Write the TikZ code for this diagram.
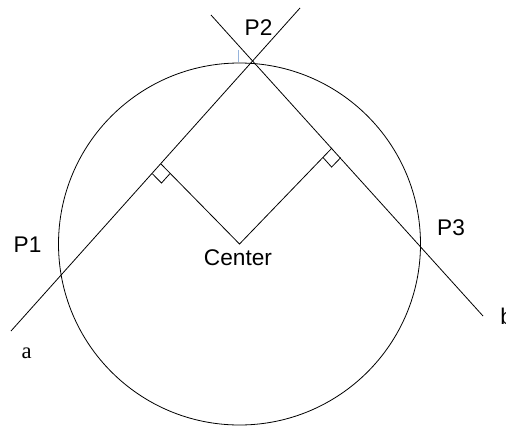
\documentclass[tikz,border=0pt]{standalone}
\usepackage{fontspec}
\setmainfont{Liberation Sans}
\newfontfamily\serifa{Liberation Serif}
\usetikzlibrary{calc}
\definecolor{ticktint}{RGB}{150,180,220}
\begin{document}
\begin{tikzpicture}[x=0.75pt,y=-0.75pt,line width=0.6pt,
  lbl/.style={inner sep=0pt,font=\fontsize{17}{20}\selectfont},
  lbls/.style={inner sep=0pt,font=\serifa\fontsize{17}{20}\selectfont}]
\useasboundingbox (0,0) rectangle (506,425);
% circle
\coordinate (O) at (239.5,244);
\draw (O) circle[radius=181];
% lines a and b
\coordinate (a1) at (11,331);
\coordinate (a2) at (300,8);
\coordinate (b1) at (211,15);
\coordinate (b2) at (483,316);
\draw (a1) -- (a2);
\draw (b1) -- (b2);
% perpendiculars from center
\coordinate (F1) at (161,164);
\coordinate (F2) at (332,148);
\draw (F1) -- (O) -- (F2);
% right-angle marks
\coordinate (m1) at ($(F1)!0.058!(a1)$);
\coordinate (m2) at ($(F1)!0.117!(O)$);
\draw (m1) -- ($(m1)+(m2)-(F1)$) -- (m2);
\coordinate (m3) at ($(F2)!0.0575!(b2)$);
\coordinate (m4) at ($(F2)!0.098!(O)$);
\draw (m3) -- ($(m3)+(m4)-(F2)$) -- (m4);
% small tick at top
\coordinate (t1) at (238.3,50);
\coordinate (t2) at (238.3,62);
\draw[ticktint,line width=0.8pt] (t1) -- (t2);
% labels
\node[lbl] (P1) at (27.5,244.5) {P1};
\node[lbl] (P2) at (258.5,27.5) {P2};
\node[lbl] (P3) at (451,228) {P3};
\node[lbl] (Ctr) at (238,258) {Center};
\node[lbls,anchor=base] (la) at (26.7,358) {a};
\node[lbl,anchor=base west] (lb) at (500,324) {b};
\end{tikzpicture}
\end{document}
